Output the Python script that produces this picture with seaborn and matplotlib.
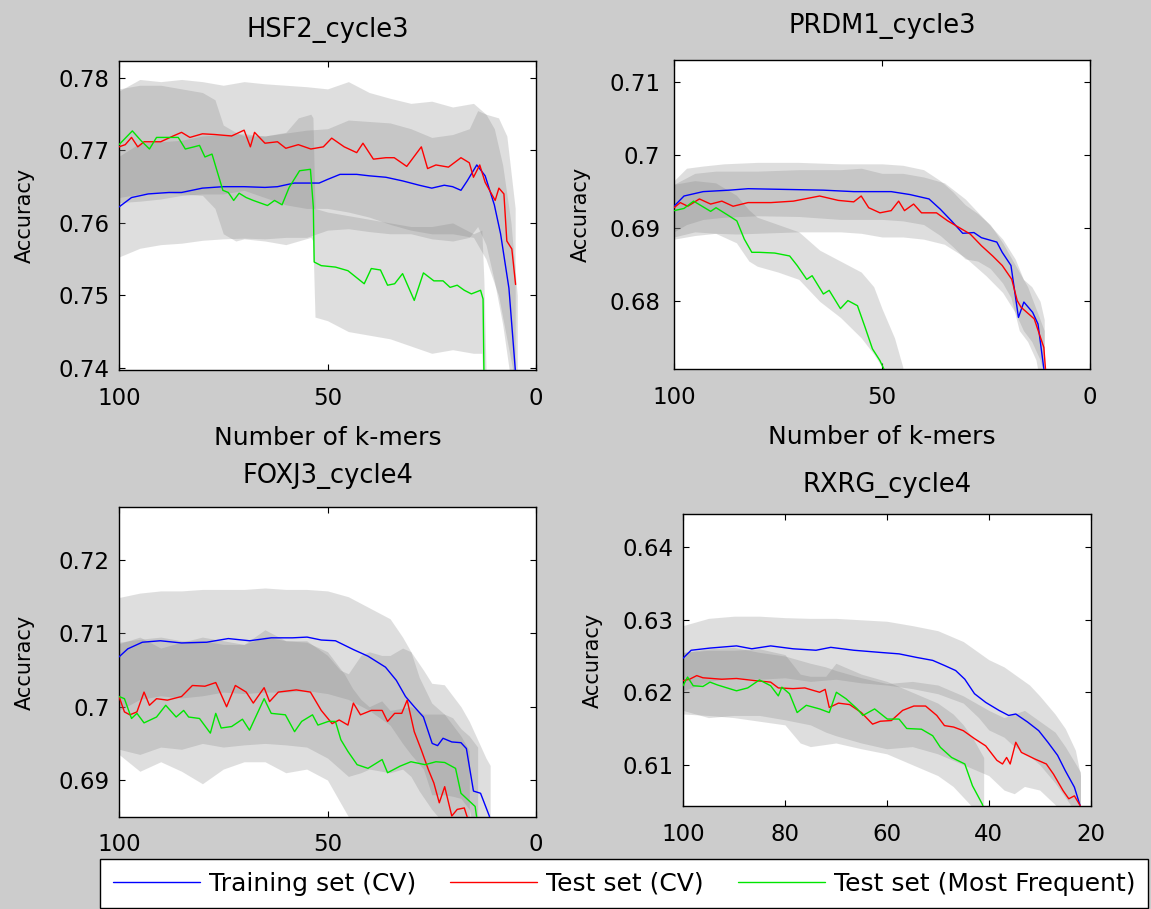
import matplotlib
matplotlib.use('Agg')
import matplotlib.pyplot as plt
import seaborn as sns

# ---------------- HSF2_cycle3 ----------------
hsf2_train_x = [100, 97, 93, 88, 85, 80, 75, 70, 65, 62, 58, 52, 50, 47, 43, 40, 36, 32, 28, 25,
                22, 20, 18, 16.5, 14.2, 12.2, 10, 8.5, 6.5, 4.8]
hsf2_train_y = [0.7622, 0.7635, 0.7640, 0.7642, 0.7642, 0.7648, 0.7650, 0.7650, 0.7649, 0.7650,
                0.7655, 0.7655, 0.7660, 0.7667, 0.7667, 0.7665, 0.7663, 0.7658, 0.7652, 0.7648,
                0.7652, 0.7650, 0.7645, 0.7658, 0.7680, 0.7665, 0.7625, 0.7585, 0.7510, 0.7385]
hsf2_test_x = [100, 98.5, 97, 95.5, 94, 90, 87, 85, 83, 80, 77, 73, 70, 68.5, 67.5, 65, 62, 60, 57, 54,
               51, 49, 46, 43, 41.5, 39, 36, 34, 31, 27.5, 26, 24, 21, 18, 16, 15, 13.5, 12.2, 9.8,
               8.9, 7.7, 7.0, 5.8, 4.9]
hsf2_test_y = [0.7705, 0.7708, 0.7718, 0.7705, 0.7712, 0.7712, 0.7720, 0.7725, 0.7718, 0.7723,
               0.7722, 0.7720, 0.7728, 0.7705, 0.7725, 0.7710, 0.7712, 0.7703, 0.7708, 0.7702,
               0.7705, 0.7717, 0.7705, 0.7697, 0.7710, 0.7688, 0.7690, 0.7690, 0.7678, 0.7705,
               0.7675, 0.7680, 0.7677, 0.7690, 0.7683, 0.7663, 0.7680, 0.7656, 0.7631, 0.7648,
               0.7640, 0.7575, 0.7564, 0.7515]
hsf2_freq_x = [100, 96.8, 94.8, 92.7, 91.0, 85.8, 84.1, 82.0, 80.7, 79.4, 77.7, 75.1, 73.8, 72.5,
               71.2, 69.5, 67.8, 64.4, 62.7, 60.9, 59.2, 56.7, 54.1, 53.4, 53.2, 51.5, 48.1, 45.1,
               41.2, 39.5, 37.3, 35.6, 33.9, 32.0, 29.2, 27.0, 24.5, 22.3, 20.6, 18.9, 17.2, 15.5,
               13.3, 12.7, 12.4]
hsf2_freq_y = [0.7708, 0.7727, 0.7714, 0.7702, 0.7718, 0.7718, 0.7702, 0.7705, 0.7707, 0.7691,
               0.7695, 0.7645, 0.7642, 0.7631, 0.7641, 0.7635, 0.7631, 0.7624, 0.7631, 0.7625,
               0.7649, 0.7672, 0.7674, 0.7622, 0.7546, 0.7541, 0.7539, 0.7534, 0.7516, 0.7537,
               0.7535, 0.7514, 0.7516, 0.7530, 0.7493, 0.7531, 0.7520, 0.7520, 0.7511, 0.7514,
               0.7507, 0.7502, 0.7507, 0.7495, 0.7350]

hsf2_train_band_x = [100, 95, 90, 85, 80, 75, 70, 65, 60, 55, 50, 45, 40, 35, 30, 25, 20, 16, 14, 12,
                     10, 8, 6, 4.5]
hsf2_train_band_lo = [0.7553, 0.7565, 0.7570, 0.7572, 0.7576, 0.7578, 0.7579, 0.7578, 0.7580, 0.7580,
                      0.7590, 0.7592, 0.7588, 0.7585, 0.7585, 0.7578, 0.7575, 0.7580, 0.7595, 0.7570,
                      0.7520, 0.7460, 0.7380, 0.7250]
hsf2_train_band_hi = [0.7692, 0.7710, 0.7712, 0.7714, 0.7720, 0.7722, 0.7723, 0.7720, 0.7724, 0.7728,
                      0.7730, 0.7742, 0.7740, 0.7738, 0.7730, 0.7718, 0.7722, 0.7730, 0.7755, 0.7750,
                      0.7730, 0.7680, 0.7600, 0.7500]
hsf2_test_band_x = [100, 95, 90, 85, 80, 75, 70, 65, 60, 55, 50, 45, 40, 35, 30, 25, 20, 15, 12, 9, 7, 5]
hsf2_test_band_lo = [0.7628, 0.7630, 0.7633, 0.7638, 0.7640, 0.7640, 0.7645, 0.7635, 0.7625, 0.7620,
                     0.7620, 0.7615, 0.7608, 0.7598, 0.7590, 0.7585, 0.7585, 0.7580, 0.7550, 0.7500,
                     0.7440, 0.7380]
hsf2_test_band_hi = [0.7782, 0.7798, 0.7795, 0.7798, 0.7795, 0.7790, 0.7795, 0.7792, 0.7790, 0.7788,
                     0.7785, 0.7795, 0.7780, 0.7772, 0.7765, 0.7768, 0.7760, 0.7765, 0.7750, 0.7745,
                     0.7720, 0.7620]
hsf2_freq_band_x = [100, 95, 90, 85, 80, 77, 75, 72, 70, 65, 60, 57, 54, 53.5, 53, 50, 45, 40, 35, 30,
                    25, 20, 15, 13, 12.5, 12]
hsf2_freq_band_lo = [0.7635, 0.7640, 0.7642, 0.7640, 0.7638, 0.7620, 0.7585, 0.7575, 0.7578, 0.7575,
                     0.7570, 0.7575, 0.7580, 0.7575, 0.7470, 0.7465, 0.7450, 0.7445, 0.7440, 0.7430,
                     0.7420, 0.7425, 0.7420, 0.7420, 0.7350, 0.7200]
hsf2_freq_band_hi = [0.7785, 0.7790, 0.7790, 0.7785, 0.7780, 0.7770, 0.7735, 0.7725, 0.7720, 0.7720,
                     0.7725, 0.7745, 0.7750, 0.7745, 0.7620, 0.7615, 0.7610, 0.7605, 0.7600, 0.7595,
                     0.7595, 0.7600, 0.7585, 0.7590, 0.7520, 0.7400]

# ---------------- PRDM1_cycle3 ----------------
prdm1_train_x = [100, 97.6, 93.0, 86.7, 82.2, 73.1, 64.1, 56.8, 47.8, 43.3, 38.7, 36.0, 33.3, 30.6,
                 27.9, 26.1, 22.4, 21.1, 19.0, 17.2, 15.9, 13.8, 12.5, 11.1, 10.6]
prdm1_train_y = [0.6930, 0.6944, 0.6950, 0.6952, 0.6954, 0.6953, 0.6952, 0.6950, 0.6950, 0.6946,
                 0.6940, 0.6926, 0.6910, 0.6893, 0.6894, 0.6887, 0.6881, 0.6867, 0.6849, 0.6778,
                 0.6799, 0.6785, 0.6769, 0.6708, 0.6695]
prdm1_test_x = [100, 98.5, 96.7, 93.9, 91.2, 88.5, 85.8, 82.2, 76.7, 71.3, 65.0, 60.5, 56.8, 55.0,
                53.2, 50.5, 47.8, 46.0, 44.6, 42.4, 40.5, 36.9, 34.2, 31.5, 28.8, 26.1, 23.4, 21.1,
                18.8, 17.5, 16.6, 15.2, 13.4, 11.1, 10.6]
prdm1_test_y = [0.6928, 0.6935, 0.6930, 0.6940, 0.6933, 0.6937, 0.6930, 0.6935, 0.6935, 0.6937,
                0.6944, 0.6938, 0.6936, 0.6944, 0.6928, 0.6921, 0.6924, 0.6937, 0.6924, 0.6933,
                0.6921, 0.6921, 0.6910, 0.6901, 0.6892, 0.6876, 0.6862, 0.6849, 0.6830, 0.6801,
                0.6792, 0.6785, 0.6776, 0.6737, 0.6700]
prdm1_freq_x = [100, 97.6, 95.3, 91.2, 89.9, 87.1, 84.9, 83.1, 81.3, 79.5, 75.8, 72.2, 70.4, 68.1,
                66.8, 64.1, 62.7, 60.0, 58.2, 55.9, 54.1, 52.3, 50.5, 49.6, 48.5]
prdm1_freq_y = [0.6924, 0.6927, 0.6937, 0.6923, 0.6928, 0.6918, 0.6910, 0.6885, 0.6867, 0.6867,
                0.6866, 0.6862, 0.6849, 0.6830, 0.6835, 0.6810, 0.6815, 0.6790, 0.6801, 0.6794,
                0.6765, 0.6735, 0.6719, 0.6708, 0.6695]

prdm1_train_band_x = [100, 97, 93, 88, 80, 70, 60, 50, 45, 40, 36, 33, 30, 27, 24, 21, 19, 17, 15, 13, 11]
prdm1_train_band_lo = [0.6895, 0.6905, 0.6912, 0.6915, 0.6917, 0.6916, 0.6912, 0.6912, 0.6910, 0.6905,
                       0.6890, 0.6875, 0.6858, 0.6855, 0.6845, 0.6825, 0.6805, 0.6760, 0.6745, 0.6720,
                       0.6660]
prdm1_train_band_hi = [0.6965, 0.6982, 0.6985, 0.6988, 0.6990, 0.6990, 0.6988, 0.6988, 0.6986, 0.6980,
                       0.6965, 0.6950, 0.6932, 0.6920, 0.6905, 0.6880, 0.6860, 0.6840, 0.6820, 0.6790,
                       0.6760]
prdm1_test_band_x = [100, 95, 90, 85, 80, 70, 60, 55, 50, 45, 40, 35, 30, 25, 21, 18, 16, 14, 12, 11]
prdm1_test_band_lo = [0.6885, 0.6890, 0.6893, 0.6892, 0.6893, 0.6895, 0.6895, 0.6893, 0.6888, 0.6888,
                      0.6885, 0.6878, 0.6860, 0.6835, 0.6812, 0.6785, 0.6760, 0.6745, 0.6720, 0.6700]
prdm1_test_band_hi = [0.6960, 0.6975, 0.6978, 0.6978, 0.6978, 0.6980, 0.6980, 0.6982, 0.6975, 0.6975,
                      0.6970, 0.6962, 0.6940, 0.6910, 0.6885, 0.6858, 0.6830, 0.6820, 0.6800, 0.6775]
prdm1_freq_band_x = [100, 95, 90, 85, 82, 80, 75, 70, 65, 60, 55, 52, 50, 47, 45]
prdm1_freq_band_lo = [0.6888, 0.6895, 0.6893, 0.6880, 0.6855, 0.6848, 0.6840, 0.6830, 0.6800, 0.6778,
                      0.6750, 0.6728, 0.6710, 0.6690, 0.6670]
prdm1_freq_band_hi = [0.6960, 0.6965, 0.6962, 0.6945, 0.6925, 0.6915, 0.6905, 0.6895, 0.6870, 0.6855,
                      0.6840, 0.6820, 0.6790, 0.6750, 0.6710]

# ---------------- FOXJ3_cycle4 ----------------
foxj3_train_x = [100, 97.9, 94.4, 90.1, 85.0, 79.0, 73.8, 68.7, 63.5, 58.4, 54.9, 51.5, 48.1, 43.8,
                 40.3, 36.1, 33.5, 31.3, 29.2, 27.0, 24.9, 23.6, 22.3, 20.2, 18.0, 16.7, 15.0, 13.3,
                 11.2, 10.5]
foxj3_train_y = [0.7068, 0.7079, 0.7088, 0.7090, 0.7087, 0.7088, 0.7093, 0.7090, 0.7094, 0.7094,
                 0.7095, 0.7091, 0.7090, 0.7078, 0.7069, 0.7054, 0.7036, 0.7014, 0.7000, 0.6986,
                 0.6950, 0.6947, 0.6957, 0.6952, 0.6951, 0.6943, 0.6885, 0.6882, 0.6851, 0.6835]
foxj3_test_x = [100, 98.7, 97.4, 95.7, 94.0, 92.7, 91.0, 88.4, 85.0, 82.4, 79.4, 76.8, 74.2, 72.1,
                69.5, 67.8, 65.2, 63.9, 61.8, 57.5, 54.1, 51.5, 48.9, 47.2, 45.1, 43.8, 42.1, 39.5,
                36.9, 35.6, 33.9, 32.2, 30.9, 29.2, 27.5, 25.8, 24.5, 23.2, 21.9, 20.2, 18.9, 17.2,
                16.3, 15.5]
foxj3_test_y = [0.7014, 0.6993, 0.6989, 0.6993, 0.7020, 0.7002, 0.7011, 0.7009, 0.7014, 0.7029,
                0.7028, 0.7033, 0.7000, 0.7029, 0.7020, 0.7005, 0.7026, 0.7007, 0.7020, 0.7023,
                0.7020, 0.6995, 0.6977, 0.6982, 0.6975, 0.7005, 0.6989, 0.6995, 0.6995, 0.6980,
                0.6991, 0.6991, 0.7009, 0.6966, 0.6941, 0.6914, 0.6896, 0.6869, 0.6891, 0.6851,
                0.6860, 0.6862, 0.6846, 0.6830]
foxj3_freq_x = [100, 98.7, 97.0, 95.7, 94.0, 91.0, 88.8, 86.3, 84.5, 83.3, 80.7, 78.1, 76.8, 75.5,
                73.0, 70.4, 68.7, 65.2, 63.5, 60.1, 57.9, 56.2, 53.6, 52.3, 49.8, 48.1, 46.8, 45.1,
                42.9, 40.3, 36.9, 35.6, 32.6, 30.0, 26.6, 24.0, 21.9, 19.3, 18.0, 16.3, 14.6, 14.2,
                13.8]
foxj3_freq_y = [0.7014, 0.7011, 0.6984, 0.6991, 0.6978, 0.6986, 0.7002, 0.6986, 0.6995, 0.6986,
                0.6984, 0.6964, 0.6991, 0.6971, 0.6973, 0.6983, 0.6968, 0.7011, 0.6991, 0.6989,
                0.6966, 0.6980, 0.6989, 0.6975, 0.6980, 0.6980, 0.6955, 0.6939, 0.6921, 0.6916,
                0.6928, 0.6910, 0.6919, 0.6925, 0.6921, 0.6925, 0.6924, 0.6916, 0.6882, 0.6873,
                0.6864, 0.6848, 0.6830]

foxj3_train_band_x = [100, 95, 90, 85, 80, 75, 70, 65, 60, 55, 50, 45, 40, 35, 32, 30, 27, 25, 22, 20,
                      18, 16, 14, 12, 11]
foxj3_train_band_lo = [0.6995, 0.7010, 0.7015, 0.7012, 0.7015, 0.7020, 0.7018, 0.7020, 0.7020, 0.7022,
                       0.7018, 0.7010, 0.6995, 0.6975, 0.6950, 0.6935, 0.6915, 0.6880, 0.6880, 0.6878,
                       0.6875, 0.6860, 0.6810, 0.6790, 0.6780]
foxj3_train_band_hi = [0.7149, 0.7155, 0.7158, 0.7158, 0.7160, 0.7160, 0.7160, 0.7162, 0.7160, 0.7160,
                       0.7158, 0.7150, 0.7135, 0.7120, 0.7095, 0.7075, 0.7050, 0.7032, 0.7030, 0.7015,
                       0.7000, 0.6980, 0.6955, 0.6930, 0.6920]
foxj3_test_band_x = [100, 95, 90, 85, 80, 75, 70, 65, 60, 55, 50, 47, 45, 42, 40, 37, 35, 32, 30, 28,
                     25, 22, 20, 18, 16]
foxj3_test_band_lo = [0.6942, 0.6935, 0.6945, 0.6942, 0.6950, 0.6945, 0.6948, 0.6950, 0.6948, 0.6945,
                      0.6930, 0.6915, 0.6905, 0.6910, 0.6915, 0.6912, 0.6910, 0.6915, 0.6905, 0.6885,
                      0.6860, 0.6840, 0.6820, 0.6800, 0.6780]
foxj3_test_band_hi = [0.7086, 0.7095, 0.7080, 0.7088, 0.7095, 0.7090, 0.7085, 0.7095, 0.7090, 0.7090,
                      0.7070, 0.7050, 0.7045, 0.7070, 0.7075, 0.7070, 0.7070, 0.7080, 0.7075, 0.7040,
                      0.7005, 0.6990, 0.6975, 0.6960, 0.6940]
foxj3_freq_band_x = [100, 95, 90, 85, 80, 75, 70, 65, 60, 55, 50, 48, 46, 44, 42, 40, 37, 35, 32, 30,
                     27, 25, 22, 20, 18, 16, 14]
foxj3_freq_band_lo = [0.6935, 0.6912, 0.6925, 0.6912, 0.6895, 0.6915, 0.6925, 0.6925, 0.6910, 0.6915,
                      0.6900, 0.6880, 0.6860, 0.6840, 0.6825, 0.6810, 0.6800, 0.6790, 0.6790, 0.6790,
                      0.6780, 0.6780, 0.6780, 0.6780, 0.6770, 0.6760, 0.6750]
foxj3_freq_band_hi = [0.7088, 0.7092, 0.7095, 0.7090, 0.7090, 0.7085, 0.7085, 0.7105, 0.7090, 0.7088,
                      0.7075, 0.7060, 0.7045, 0.7025, 0.7010, 0.7000, 0.7008, 0.6995, 0.6998, 0.7000,
                      0.6990, 0.6990, 0.6990, 0.6985, 0.6970, 0.6960, 0.6945]

# ---------------- RXRG_cycle4 ----------------
rxrg_train_x = [100, 98.4, 94.7, 89.5, 86.5, 82.8, 78.4, 73.9, 71.0, 66.5, 61.3, 57.6, 54.1, 51.0,
                48.7, 46.5, 44.7, 42.8, 40.6, 38.0, 36.1, 34.7, 32.4, 30.2, 28.4, 26.5, 25.0, 23.2,
                22.1, 21.5]
rxrg_train_y = [0.6247, 0.6258, 0.6261, 0.6264, 0.6260, 0.6264, 0.6260, 0.6258, 0.6262, 0.6258,
                0.6255, 0.6253, 0.6248, 0.6244, 0.6237, 0.6230, 0.6218, 0.6198, 0.6186, 0.6175,
                0.6168, 0.6170, 0.6159, 0.6147, 0.6131, 0.6113, 0.6092, 0.6069, 0.6044, 0.6025]
rxrg_test_x = [100, 98.7, 97.3, 96.1, 92.4, 89.5, 85.8, 82.8, 81.3, 78.4, 76.1, 73.2, 72.1, 71.3,
               69.5, 67.3, 65.0, 62.8, 61.3, 59.1, 56.9, 54.7, 52.4, 50.2, 48.7, 46.9, 45.0, 42.8,
               40.6, 38.4, 37.3, 36.5, 35.8, 34.7, 33.6, 31.0, 28.7, 27.3, 25.4, 24.3, 23.2, 22.1,
               21.5]
rxrg_test_y = [0.6216, 0.6218, 0.6223, 0.6220, 0.6218, 0.6219, 0.6216, 0.6214, 0.6206, 0.6205,
               0.6206, 0.6200, 0.6204, 0.6179, 0.6185, 0.6183, 0.6172, 0.6156, 0.6160, 0.6161,
               0.6175, 0.6181, 0.6181, 0.6168, 0.6154, 0.6152, 0.6147, 0.6136, 0.6126, 0.6106,
               0.6101, 0.6110, 0.6101, 0.6131, 0.6117, 0.6108, 0.6101, 0.6087, 0.6064, 0.6053,
               0.6057, 0.6044, 0.6030]
rxrg_freq_x = [100, 99.1, 98.0, 96.1, 94.7, 93.2, 89.5, 87.3, 85.0, 82.8, 81.3, 80.6, 79.1, 77.6,
               75.8, 73.2, 71.3, 69.9, 68.0, 65.8, 64.7, 62.4, 59.9, 57.6, 56.1, 53.2, 51.0, 49.5,
               47.3, 44.7, 43.2, 41.3, 40.5]
rxrg_freq_y = [0.6209, 0.6221, 0.6209, 0.6208, 0.6214, 0.6210, 0.6202, 0.6206, 0.6217, 0.6209,
               0.6195, 0.6207, 0.6198, 0.6172, 0.6182, 0.6177, 0.6172, 0.6200, 0.6191, 0.6177,
               0.6168, 0.6177, 0.6163, 0.6163, 0.6150, 0.6149, 0.6140, 0.6124, 0.6110, 0.6101,
               0.6071, 0.6046, 0.6030]

rxrg_train_band_x = [100, 95, 90, 85, 80, 75, 70, 65, 60, 55, 50, 45, 42, 40, 37, 35, 32, 30, 27, 25,
                     23, 22]
rxrg_train_band_lo = [0.6202, 0.6215, 0.6220, 0.6218, 0.6220, 0.6215, 0.6218, 0.6213, 0.6210, 0.6205,
                      0.6198, 0.6185, 0.6165, 0.6148, 0.6138, 0.6125, 0.6112, 0.6100, 0.6075, 0.6055,
                      0.6035, 0.6020]
rxrg_train_band_hi = [0.6292, 0.6302, 0.6305, 0.6305, 0.6303, 0.6302, 0.6302, 0.6300, 0.6298, 0.6292,
                      0.6285, 0.6270, 0.6255, 0.6245, 0.6235, 0.6225, 0.6210, 0.6195, 0.6170, 0.6150,
                      0.6120, 0.6085]
rxrg_test_band_x = [100, 95, 90, 85, 80, 75, 72, 70, 65, 60, 55, 50, 45, 40, 37, 35, 33, 30, 27, 25, 22]
rxrg_test_band_lo = [0.6175, 0.6165, 0.6168, 0.6168, 0.6162, 0.6155, 0.6145, 0.6140, 0.6130, 0.6122,
                     0.6125, 0.6115, 0.6100, 0.6085, 0.6065, 0.6060, 0.6070, 0.6065, 0.6045, 0.6030,
                     0.6010]
rxrg_test_band_hi = [0.6255, 0.6260, 0.6262, 0.6255, 0.6250, 0.6240, 0.6235, 0.6230, 0.6220, 0.6212,
                     0.6215, 0.6210, 0.6195, 0.6175, 0.6165, 0.6170, 0.6175, 0.6160, 0.6145, 0.6125,
                     0.6090]
rxrg_freq_band_x = [100, 95, 90, 85, 80, 77, 75, 72, 70, 65, 60, 55, 50, 47, 45, 43, 41]
rxrg_freq_band_lo = [0.6170, 0.6168, 0.6165, 0.6160, 0.6155, 0.6130, 0.6125, 0.6128, 0.6130, 0.6122,
                     0.6115, 0.6100, 0.6085, 0.6070, 0.6055, 0.6040, 0.6020]
rxrg_freq_band_hi = [0.6255, 0.6258, 0.6258, 0.6260, 0.6252, 0.6225, 0.6222, 0.6222, 0.6240, 0.6225,
                     0.6215, 0.6200, 0.6185, 0.6170, 0.6155, 0.6135, 0.6110]

series_labels = ['Training set (CV)', 'Test set (CV)', 'Test set (Most Frequent)']
series_colors = ['#0000ff', '#ff0000', '#00e600']

# panel settings: title, position, limits, ticks, label coords
panels = [
    dict(title='HSF2_cycle3', pos=[0.1034, 0.5930, 0.3623, 0.3403],
         xlim=(100, 0), ylim=(0.7397, 0.7824), xticks=[100, 50, 0],
         yticks=[0.74, 0.75, 0.76, 0.77, 0.78], xlabel=True, ylab_x=-0.201, tpad=17, ypad=6.5,
         lines=[(hsf2_train_x, hsf2_train_y), (hsf2_test_x, hsf2_test_y), (hsf2_freq_x, hsf2_freq_y)],
         bands=[(hsf2_train_band_x, hsf2_train_band_lo, hsf2_train_band_hi),
                (hsf2_test_band_x, hsf2_test_band_lo, hsf2_test_band_hi),
                (hsf2_freq_band_x, hsf2_freq_band_lo, hsf2_freq_band_hi)]),
    dict(title='PRDM1_cycle3', pos=[0.5856, 0.5937, 0.3614, 0.3403],
         xlim=(100, 0), ylim=(0.6707, 0.7130), xticks=[100, 50, 0],
         yticks=[0.68, 0.69, 0.70, 0.71], xlabel=True, ylab_x=-0.199, tpad=19.5, ypad=10,
         lines=[(prdm1_train_x, prdm1_train_y), (prdm1_test_x, prdm1_test_y), (prdm1_freq_x, prdm1_freq_y)],
         bands=[(prdm1_train_band_x, prdm1_train_band_lo, prdm1_train_band_hi),
                (prdm1_test_band_x, prdm1_test_band_lo, prdm1_test_band_hi),
                (prdm1_freq_band_x, prdm1_freq_band_lo, prdm1_freq_band_hi)]),
    dict(title='FOXJ3_cycle4', pos=[0.1034, 0.1015, 0.3623, 0.3404],
         xlim=(100, 0), ylim=(0.6850, 0.7272), xticks=[100, 50, 0],
         yticks=[0.69, 0.70, 0.71, 0.72], xlabel=False, ylab_x=-0.201, tpad=17.5, ypad=6.5,
         lines=[(foxj3_train_x, foxj3_train_y), (foxj3_test_x, foxj3_test_y), (foxj3_freq_x, foxj3_freq_y)],
         bands=[(foxj3_train_band_x, foxj3_train_band_lo, foxj3_train_band_hi),
                (foxj3_test_band_x, foxj3_test_band_lo, foxj3_test_band_hi),
                (foxj3_freq_band_x, foxj3_freq_band_lo, foxj3_freq_band_hi)]),
    dict(title='RXRG_cycle4', pos=[0.5934, 0.1133, 0.3542, 0.3212],
         xlim=(100, 20), ylim=(0.6043, 0.6446), xticks=[100, 80, 60, 40, 20],
         yticks=[0.61, 0.62, 0.63, 0.64], xlabel=False, ylab_x=-0.1955, tpad=16, ypad=7,
         lines=[(rxrg_train_x, rxrg_train_y), (rxrg_test_x, rxrg_test_y), (rxrg_freq_x, rxrg_freq_y)],
         bands=[(rxrg_train_band_x, rxrg_train_band_lo, rxrg_train_band_hi),
                (rxrg_test_band_x, rxrg_test_band_lo, rxrg_test_band_hi),
                (rxrg_freq_band_x, rxrg_freq_band_lo, rxrg_freq_band_hi)]),
]

sns.set_theme(style='ticks')
plt.rcParams['font.family'] = ['DejaVu Sans']
plt.rcParams['text.color'] = 'black'
plt.rcParams['axes.labelcolor'] = 'black'
plt.rcParams['axes.titlecolor'] = 'black'
plt.rcParams['xtick.color'] = 'black'
plt.rcParams['ytick.color'] = 'black'

fig = plt.figure(figsize=(11.51, 9.09), dpi=100, facecolor='#cccccc')
axes = []

for p in panels:
    ax = fig.add_axes(p['pos'])
    ax.set_facecolor('white')

    # shaded +/- bands
    for bx, lo, hi in p['bands']:
        ax.fill_between(bx, lo, hi, color='#7f7f7f', alpha=0.25, lw=0, zorder=1)

    for (lx, ly), lab, col in zip(p['lines'], series_labels, series_colors):
        sns.lineplot(x=lx, y=ly, ax=ax, color=col, lw=1.0, label=lab,
                     sort=False, estimator=None, legend=False, zorder=3)

    ax.set_xlim(*p['xlim'])
    ax.set_ylim(*p['ylim'])
    ax.set_xticks(p['xticks'])
    ax.set_xticklabels([str(t) for t in p['xticks']])
    ax.set_yticks(p['yticks'])
    ax.set_yticklabels(['%g' % t for t in p['yticks']])
    ax.tick_params(direction='in', top=True, right=True, length=4, width=0.8,
                   labelsize=16.5, colors='black')
    ax.tick_params(axis='x', pad=12)
    ax.tick_params(axis='y', pad=p['ypad'])
    for s in ax.spines.values():
        s.set_color('black')
        s.set_linewidth(1.0)

    ax.set_title(p['title'], fontsize=18.5, pad=p['tpad'], color='black')
    ax.set_ylabel('Accuracy', fontsize=15, color='black')
    ax.yaxis.set_label_coords(p['ylab_x'], 0.5)
    if p['xlabel']:
        ax.set_xlabel('Number of k-mers', fontsize=18, color='black')
        ax.xaxis.set_label_coords(0.5, -0.181)
    else:
        ax.set_xlabel('')
    if ax.get_legend() is not None:
        ax.get_legend().remove()
    axes.append(ax)

handles, labels = axes[0].get_legend_handles_labels()
leg = fig.legend(handles, labels, loc='upper left',
                 bbox_to_anchor=(100 / 1151, 1 - 859 / 909, 1048 / 1151, 0),
                 mode='expand', ncol=3, fontsize=18, frameon=True, fancybox=False,
                 edgecolor='black', facecolor='white', framealpha=1, borderpad=0.5,
                 handlelength=3.5, handletextpad=0.35, borderaxespad=0)
leg.get_frame().set_linewidth(1.0)
for t in leg.get_texts():
    t.set_color('black')

fig.savefig('out.png', dpi=100, facecolor=fig.get_facecolor())
